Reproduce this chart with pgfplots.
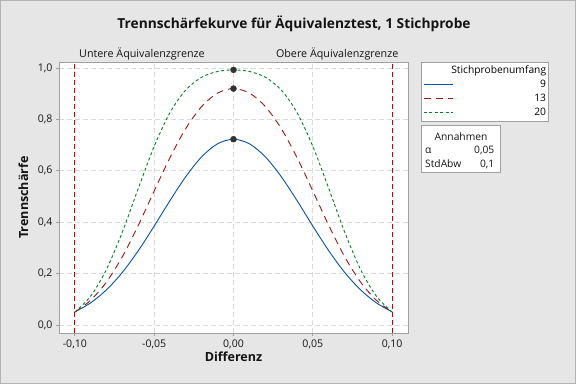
\documentclass[border=0pt]{standalone}
\usepackage{fontspec}
\setmainfont{Open Sans}
\usepackage{pgfplots}
\pgfplotsset{compat=1.18}
\definecolor{bg}{RGB}{230,230,230}
\definecolor{frame}{RGB}{160,160,160}
\definecolor{gridc}{RGB}{218,218,218}
\definecolor{c1}{RGB}{0,84,166}
\definecolor{c2}{RGB}{158,22,22}
\definecolor{c3}{RGB}{0,128,40}
\definecolor{lim}{RGB}{200,0,0}
\definecolor{dot}{RGB}{50,50,50}
\definecolor{txt}{RGB}{20,20,20}

\pgfplotstableread{
d p
-0.10 0.0511
-0.09 0.0864
-0.08 0.1374
-0.07 0.2053
-0.06 0.2893
-0.05 0.3849
-0.04 0.4845
-0.03 0.5779
-0.02 0.6547
-0.01 0.7050
0.00 0.7226
0.01 0.7050
0.02 0.6547
0.03 0.5779
0.04 0.4845
0.05 0.3849
0.06 0.2893
0.07 0.2053
0.08 0.1374
0.09 0.0864
0.10 0.0511
}\nnine
\pgfplotstableread{
d p
-0.10 0.0505
-0.09 0.0966
-0.08 0.1680
-0.07 0.2665
-0.06 0.3879
-0.05 0.5214
-0.04 0.6519
-0.03 0.7651
-0.02 0.8503
-0.01 0.9023
0.00 0.9196
0.01 0.9023
0.02 0.8503
0.03 0.7651
0.04 0.6519
0.05 0.5214
0.06 0.3879
0.07 0.2665
0.08 0.1680
0.09 0.0966
0.10 0.0505
}\nthirteen
\pgfplotstableread{
d p
-0.10 0.0502
-0.09 0.1127
-0.08 0.2172
-0.07 0.3628
-0.06 0.5317
-0.05 0.6950
-0.04 0.8266
-0.03 0.9148
-0.02 0.9640
-0.01 0.9862
0.00 0.9923
0.01 0.9862
0.02 0.9640
0.03 0.9148
0.04 0.8266
0.05 0.6950
0.06 0.5317
0.07 0.3628
0.08 0.2172
0.09 0.1127
0.10 0.0502
}\ntwenty

\begin{document}
\begin{tikzpicture}[x=1bp,y=1bp]
\useasboundingbox (0,0) rectangle (576,384);
\fill[bg] (0,0) rectangle (576,384);
\draw[frame!80, line width=0.6bp] (0.3,0.3) rectangle (575.7,383.7);
\begin{axis}[
  at={(59bp,51bp)}, anchor=south west,
  scale only axis, width=349bp, height=271bp,
  xmin=-0.11, xmax=0.11, ymin=-0.031, ymax=1.023,
  axis background/.style={fill=white},
  axis line style={frame, line width=0.8bp},
  xtick={-0.1,-0.05,0,0.05,0.1},
  ytick={0,0.2,0.4,0.6,0.8,1},
  grid=major,
  major grid style={gridc, dash pattern=on 5bp off 3bp, line width=0.8bp},
  tick align=outside, tick pos=left, major tick length=3bp,
  tick style={frame, line width=0.8bp},
  /pgf/number format/assume math mode=true,
  xticklabel style={/pgf/number format/.cd, use comma, fixed, fixed zerofill, precision=2},
  yticklabel style={/pgf/number format/.cd, use comma, fixed, fixed zerofill, precision=1},
  ticklabel style={font=\fontsize{10.6}{12}\selectfont, text=txt},
  xlabel={Differenz}, ylabel={Trennschärfe},
  label style={font=\bfseries\fontsize{12.6}{14}\selectfont, text=txt},
  xlabel style={at={(axis description cs:0.5,-0.0886)}, anchor=center},
  ylabel style={at={(axis description cs:-0.1023,0.5)}, anchor=center},
  legend style={at={(1,1)}, anchor=north west, xshift=13bp, draw=frame, fill=white,
    font=\fontsize{10.3}{11}\selectfont, inner xsep=2bp, inner ysep=4.3bp, row sep=4.2bp,
    nodes={inner sep=0bp, text height=7.5bp, text depth=2bp}},
  legend cell align=right,
  legend image code/.code={\draw[#1] (0bp,0bp) -- (29bp,0bp);},
]
\addlegendimage{empty legend}
\addlegendentry{\makebox[93bp][r]{Stichprobenumfang}}
\addplot[lim, dash pattern=on 5bp off 3bp, line width=0.9bp, forget plot] coordinates {(-0.1,-0.031) (-0.1,1.023)};
\addplot[lim, dash pattern=on 5bp off 3bp, line width=0.9bp, forget plot] coordinates {(0.1,-0.031) (0.1,1.023)};
\addplot[c1, line width=0.9bp, smooth] table[x=d, y=p] {\nnine};
\addlegendentry{\makebox[93bp][r]{9}}
\addplot[c2, line width=0.9bp, smooth, dash pattern=on 7bp off 5bp] table[x=d, y=p] {\nthirteen};
\addlegendentry{\makebox[93bp][r]{13}}
\addplot[c3, line width=0.9bp, smooth, dash pattern=on 3bp off 2.5bp] table[x=d, y=p] {\ntwenty};
\addlegendentry{\makebox[93bp][r]{20}}
\addplot[only marks, mark=*, mark size=3bp, dot, forget plot] coordinates {(0,0.7226) (0,0.9196) (0,0.9923)};
\end{axis}
\node[font=\bfseries\fontsize{13.8}{16}\selectfont, text=txt] at (294,360) {Trennschärfekurve für Äquivalenztest, 1 Stichprobe};
\node[anchor=west, inner sep=0, font=\fontsize{10.8}{12}\selectfont, text=txt] at (79,329.7) {Untere Äquivalenzgrenze};
\node[anchor=east, inner sep=0, font=\fontsize{10.8}{12}\selectfont, text=txt] at (398.5,329.7) {Obere Äquivalenzgrenze};
\draw[frame, fill=white, line width=0.8bp] (421.7,259) rectangle (500.3,211.7);
\node[font=\fontsize{10.3}{11}\selectfont, text=txt] at (461,247.3) {Annahmen};
\node[anchor=west, inner sep=0, font=\fontsize{10.3}{11}\selectfont, text=txt] at (425,233.3) {α};
\node[anchor=east, inner sep=0, font=\fontsize{10.3}{11}\selectfont, text=txt] at (494.5,233.3) {0,05};
\node[anchor=west, inner sep=0, font=\fontsize{10.3}{11}\selectfont, text=txt] at (425,220) {StdAbw};
\node[anchor=east, inner sep=0, font=\fontsize{10.3}{11}\selectfont, text=txt] at (494.5,220) {0,1};
\end{tikzpicture}
\end{document}
